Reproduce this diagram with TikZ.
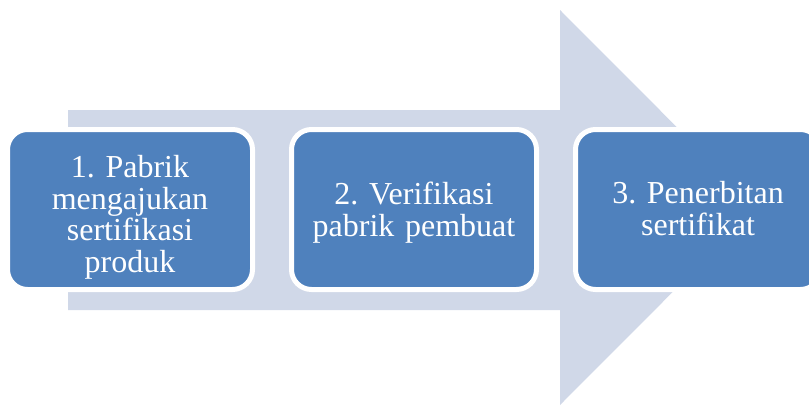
\documentclass[tikz,border=0pt]{standalone}
\usepackage{fontspec}
\setmainfont{Liberation Serif}
\frenchspacing
\definecolor{arrowfill}{HTML}{D0D8E8}
\definecolor{boxfill}{HTML}{4F81BD}
\begin{document}
\begin{tikzpicture}[x=1pt,y=-1pt,
  stepbox/.style={draw=white, line width=5pt, fill=boxfill, rounded corners=20pt,
    minimum width=245pt, minimum height=160pt, inner sep=0pt},
  steptext/.style={text width=235pt, align=center, text=white,
    font=\fontsize{32}{31.5}\selectfont, inner sep=0pt}]
\useasboundingbox (0,0) rectangle (809,407);
\clip (0,0) rectangle (809,407);
\fill[arrowfill] (68,110) -- (560,110) -- (560,10) -- (757,207.5) -- (560,405) -- (560,310) -- (68,310) -- cycle;
\node[stepbox] (s1) at (130,209.5) {};
\node[stepbox] (s2) at (414,209.5) {};
\node[stepbox] (s3) at (698,209.5) {};
\node[steptext] (t1) at ([yshift=-8pt]s1.center) {1. Pabrik\\mengajukan\\sertifikasi\\produk};
\node[steptext] (t2) at ([yshift=-3pt]s2.center) {2. Verifikasi\\pabrik pembuat};
\node[steptext] (t3) at ([yshift=1pt]s3.center) {3. Penerbitan\\sertifikat};
\end{tikzpicture}
\end{document}
